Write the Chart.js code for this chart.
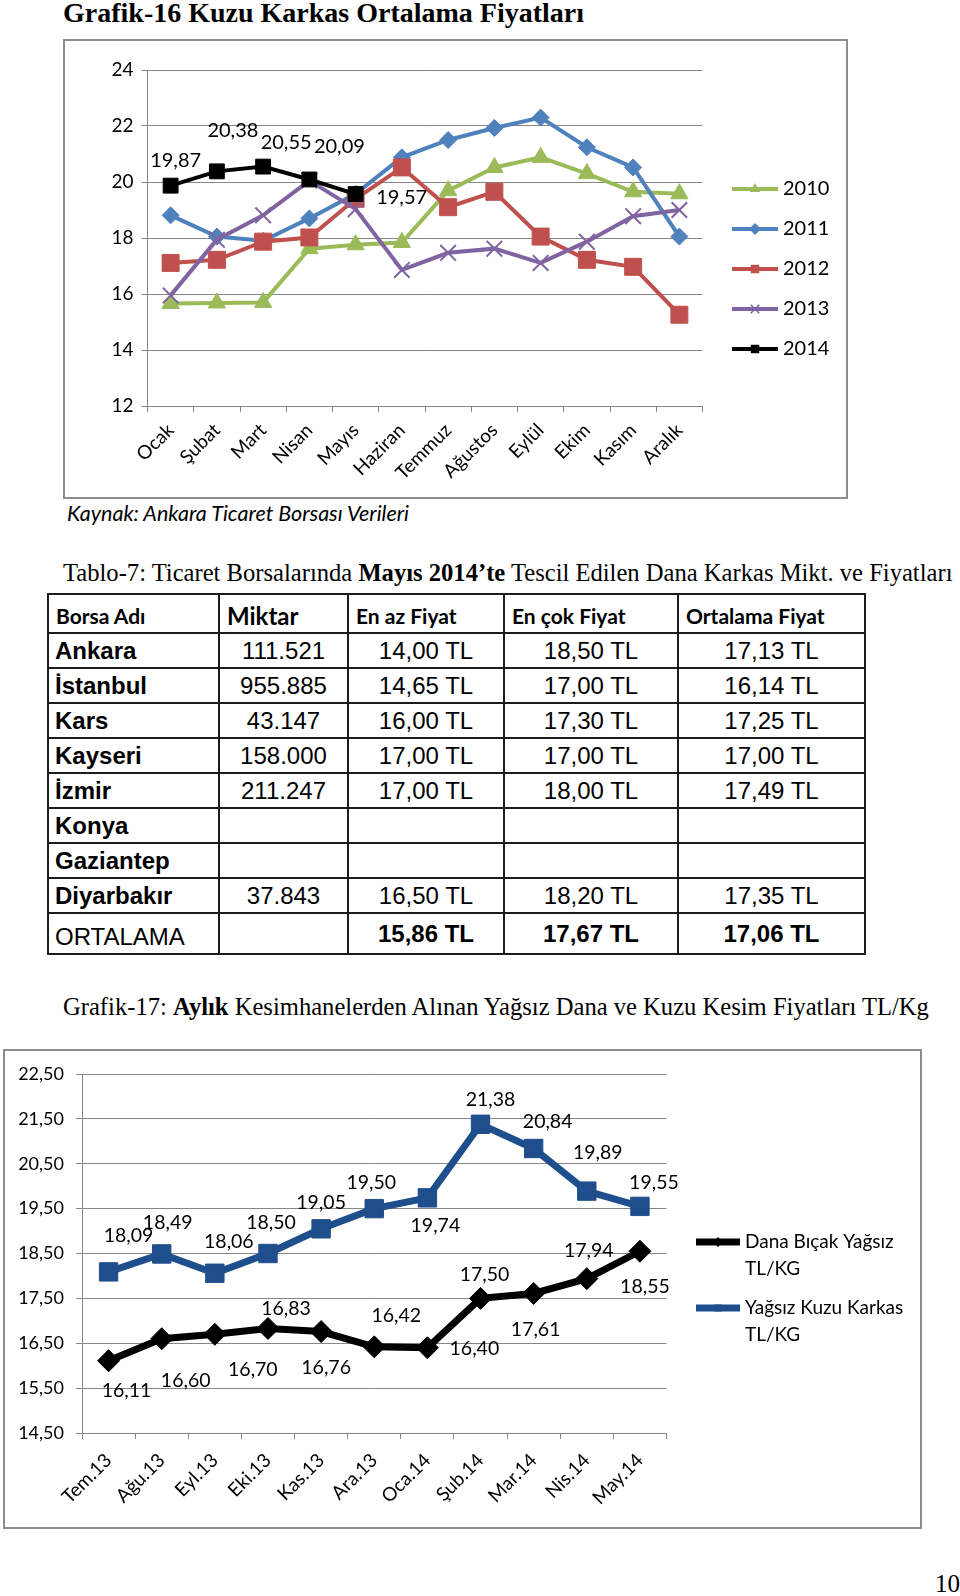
<!DOCTYPE html>
<html lang="tr">
<head>
<meta charset="utf-8">
<script src="https://cdn.jsdelivr.net/npm/chart.js@4.4.1/dist/chart.umd.min.js"></script>
<style>
 body { margin:0; background:#fff; width:960px; height:1596px; position:relative; overflow:hidden; }
 .serif { position:absolute; font-family:"Liberation Serif","Times New Roman",serif; white-space:nowrap; color:#000; }
 .box { position:absolute; border:2px solid #8c8c8c; box-sizing:border-box; }
 canvas { position:absolute; }
 #tablo { position:absolute; left:47px; top:593px; border-collapse:collapse; table-layout:fixed; }
 #tablo td { border:2px solid #1c1c1c; height:33px; padding:0; font-family:"Liberation Sans",Arial,sans-serif; font-size:24px; text-align:center; vertical-align:middle; }
 #tablo td.ad { text-align:left; padding-left:6px; font-weight:bold; }
 #tablo tr.bas td { font-family:Lato,sans-serif; font-weight:bold; font-size:21px; text-align:left; padding-left:7px; padding-top:4px; }
 #tablo tr.ort td.ad { font-weight:normal; padding-top:6px; }
 #tablo tr.ort td { font-weight:bold; }
</style>
</head>
<body>

<div class="serif" style="left:63px;top:-3px;font-size:28px;font-weight:bold;">Grafik-16 Kuzu Karkas Ortalama Fiyatları</div>
<div class="box" style="left:63px;top:39px;width:785px;height:460px;"></div>
<canvas id="grafik16" width="785" height="460" style="left:63px;top:39px;"></canvas>
<div style="position:absolute;left:67px;top:500px;font-family:Lato,sans-serif;font-style:italic;font-size:21.5px;">Kaynak: Ankara Ticaret Borsası Verileri</div>

<div class="serif" style="left:63px;top:559px;font-size:24.6px;">Tablo-7: Ticaret Borsalarında <b>Mayıs 2014’te</b> Tescil Edilen Dana Karkas Mikt. ve Fiyatları</div>
<table id="tablo"></table>

<div class="serif" style="left:63px;top:993px;font-size:24.6px;">Grafik-17: <b>Aylık</b> Kesimhanelerden Alınan Yağsız Dana ve Kuzu Kesim Fiyatları TL/Kg</div>
<div class="box" style="left:3px;top:1049px;width:919px;height:480px;"></div>
<canvas id="grafik17" width="919" height="480" style="left:3px;top:1049px;"></canvas>

<div class="serif" style="left:935px;top:1570px;font-size:25px;">10</div>

<script>
// Grafik-16 verileri
const aylar = ["Ocak", "Şubat", "Mart", "Nisan", "Mayıs", "Haziran", "Temmuz", "Ağustos", "Eylül", "Ekim", "Kasım", "Aralık"];
const y2010 = [15.66, 15.68, 15.70, 17.62, 17.76, 17.84, 19.69, 20.52, 20.88, 20.30, 19.65, 19.58];
const y2011 = [18.81, 18.05, 17.90, 18.70, 19.58, 20.88, 21.50, 21.93, 22.30, 21.24, 20.52, 18.05];
const y2012 = [17.11, 17.22, 17.87, 18.02, 19.40, 20.52, 19.10, 19.65, 18.05, 17.22, 16.97, 15.26];
const y2013 = [15.95, 17.94, 18.81, 20.05, 19.03, 16.86, 17.47, 17.62, 17.11, 17.87, 18.78, 19.00];
const y2014 = [19.87, 20.38, 20.55, 20.09, 19.57, null, null, null, null, null, null, null];
const yTick16 = { min: 12, max: 24, step: 2 };

// Grafik-17 verileri
const donemler = ["Tem.13", "Ağu.13", "Eyl.13", "Eki.13", "Kas.13", "Ara.13", "Oca.14", "Şub.14", "Mar.14", "Nis.14", "May.14"];
const danaBicak = [16.11, 16.60, 16.70, 16.83, 16.76, 16.42, 16.40, 17.50, 17.61, 17.94, 18.55];
const kuzuKarkas = [18.09, 18.49, 18.06, 18.50, 19.05, 19.50, 19.74, 21.38, 20.84, 19.89, 19.55];
const yTick17 = { min: 14.5, max: 22.5, step: 1 };

// Tablo-7 verileri
const borsaAdlari = ["Ankara", "İstanbul", "Kars", "Kayseri", "İzmir", "Konya", "Gaziantep", "Diyarbakır"];
const miktar = ["111.521", "955.885", "43.147", "158.000", "211.247", "", "", "37.843"];
const enAzFiyat = ["14,00 TL", "14,65 TL", "16,00 TL", "17,00 TL", "17,00 TL", "", "", "16,50 TL"];
const enCokFiyat = ["18,50 TL", "17,00 TL", "17,30 TL", "17,00 TL", "18,00 TL", "", "", "18,20 TL"];
const ortalamaFiyat = ["17,13 TL", "16,14 TL", "17,25 TL", "17,00 TL", "17,49 TL", "", "", "17,35 TL"];
const ortalamaSatiri = ["ORTALAMA", "", "15,86 TL", "17,67 TL", "17,06 TL"];
const basliklar = ["Borsa Adı", "Miktar", "En az Fiyat", "En çok Fiyat", "Ortalama Fiyat"];

// etiket kaydırmaları (px)
const etiket14 = { dx: [5, 16, 23, 30, 46], dy: [-25, -41, -24, -33, 4] };
const etiketKuzu = { dx: [20, 6, 14, 3, 0, -3, 8, 10, 14, 11, 14], dy: [-36, -31, -32, -31, -26, -26, 28, -25, -27, -38, -24] };
const etiketDana = { dx: [18, 24, 38, 18, 5, 22, 47, 4, 2, 2, 5], dy: [30, 42, 35, -20, 36, -31, 1, -24, 36, -28, 35] };

// tablo
const sutunGen = [171, 129, 156, 174, 187];
const tablo = document.getElementById("tablo");
const cg = document.createElement("colgroup");
sutunGen.forEach(w => { const c = document.createElement("col"); c.style.width = w + "px"; cg.appendChild(c); });
tablo.appendChild(cg);
function satir(hucreler, sinif) {
  const tr = document.createElement("tr");
  if (sinif) tr.className = sinif;
  hucreler.forEach((t, i) => {
    const td = document.createElement("td");
    if (i === 0) td.className = "ad";
    td.textContent = t;
    tr.appendChild(td);
  });
  tablo.appendChild(tr);
  return tr;
}
const bas = satir(basliklar, "bas");
bas.children[1].style.fontSize = "24px";
borsaAdlari.forEach((ad, i) => satir([ad, miktar[i], enAzFiyat[i], enCokFiyat[i], ortalamaFiyat[i]]));
satir(ortalamaSatiri, "ort");

const virgul = v => v.toFixed(2).replace(".", ",");
const FONT = "Lato, 'Open Sans', sans-serif";

function isaret(ctx, stil, x, y, r, renk) {
  ctx.save();
  ctx.fillStyle = renk; ctx.strokeStyle = renk;
  ctx.beginPath();
  if (stil === "triangle") {
    ctx.moveTo(x, y - r); ctx.lineTo(x + r * 0.866, y + r / 2); ctx.lineTo(x - r * 0.866, y + r / 2); ctx.closePath(); ctx.fill();
  } else if (stil === "rectRot") {
    ctx.moveTo(x, y - r); ctx.lineTo(x + r, y); ctx.lineTo(x, y + r); ctx.lineTo(x - r, y); ctx.closePath(); ctx.fill();
  } else if (stil === "rect") {
    const s = r * Math.SQRT1_2; ctx.rect(x - s, y - s, 2 * s, 2 * s); ctx.fill();
  } else if (stil === "crossRot") {
    const s = r * Math.SQRT1_2; ctx.lineWidth = 1.5;
    ctx.moveTo(x - s, y - s); ctx.lineTo(x + s, y + s); ctx.moveTo(x + s, y - s); ctx.lineTo(x - s, y + s); ctx.stroke();
  }
  ctx.restore();
}

// lejant ve veri etiketleri
const cizimEki = {
  id: "cizimEki",
  afterDatasetsDraw(chart, args, opts) {
    const ctx = chart.ctx;
    ctx.save();
    ctx.font = opts.etiketFont + "px " + FONT;
    ctx.fillStyle = "#000";
    ctx.textAlign = "center";
    ctx.textBaseline = "middle";
    (opts.etiketler || []).forEach(e => {
      const meta = chart.getDatasetMeta(e.ds);
      const veri = chart.data.datasets[e.ds].data;
      meta.data.forEach((p, i) => {
        if (veri[i] == null) return;
        ctx.fillText(virgul(veri[i]), p.x + e.kay.dx[i], p.y + e.kay.dy[i]);
      });
    });
    const L = opts.lejant;
    ctx.textAlign = "left";
    ctx.font = L.font + "px " + FONT;
    L.ogeler.forEach((o, k) => {
      const ds = chart.data.datasets[o.ds];
      const y = L.y[k];
      ctx.strokeStyle = ds.borderColor;
      ctx.lineWidth = ds.borderWidth;
      ctx.beginPath(); ctx.moveTo(L.x0, y); ctx.lineTo(L.x1, y); ctx.stroke();
      isaret(ctx, ds.pointStyle, (L.x0 + L.x1) / 2, y, L.r, ds.pointBackgroundColor);
      ctx.fillStyle = "#000";
      o.metin.forEach((m, j) => ctx.fillText(m, L.x1 + 5, y + j * 27));
    });
    ctx.restore();
  }
};

function seri(ad, veri, renk, stil, r, order) {
  return { label: ad, data: veri, borderColor: renk, backgroundColor: renk, pointBackgroundColor: renk,
    pointBorderColor: renk, borderWidth: 4, pointStyle: stil, pointRadius: r, pointHoverRadius: r,
    pointBorderWidth: stil === "crossRot" ? 2 : 1, tension: 0, order: order, spanGaps: false };
}

new Chart(document.getElementById("grafik16"), {
  type: "line",
  data: {
    labels: aylar,
    datasets: [
      seri("2010", y2010, "#9BBB59", "triangle", 10, 4),
      seri("2011", y2011, "#4F81BD", "rectRot", 8.5, 3),
      seri("2012", y2012, "#C0504D", "rect", 12, 2),
      seri("2013", y2013, "#8064A2", "crossRot", 11, 1),
      seri("2014", y2014, "#000000", "rect", 10.5, 0)
    ]
  },
  options: {
    responsive: false, animation: false,
    layout: { padding: { left: 0, right: 145.5, top: 31, bottom: 0 } },
    plugins: {
      legend: { display: false }, tooltip: { enabled: false },
      cizimEki: {
        etiketFont: 20,
        etiketler: [{ ds: 4, kay: etiket14 }],
        lejant: { x0: 669, x1: 715, r: 6, font: 20, y: [150, 190, 230, 270, 310],
          ogeler: [{ ds: 0, metin: ["2010"] }, { ds: 1, metin: ["2011"] }, { ds: 2, metin: ["2012"] }, { ds: 3, metin: ["2013"] }, { ds: 4, metin: ["2014"] }] }
      }
    },
    scales: {
      x: {
        offset: true,
        afterFit: s => { s.height = 93; },
        grid: { display: true, drawOnChartArea: false, drawTicks: true, tickLength: 6, color: "#868686", offset: true },
        border: { display: true, color: "#868686" },
        ticks: { autoSkip: false, minRotation: 45, maxRotation: 45, color: "#000", font: { family: FONT, size: 19 }, padding: 7 }
      },
      y: {
        min: yTick16.min, max: yTick16.max,
        afterFit: s => { s.width = 84.5; },
        grid: { color: "#868686", tickLength: 6 },
        border: { display: true, color: "#868686" },
        ticks: { stepSize: yTick16.step, color: "#000", font: { family: FONT, size: 19 }, padding: 8 }
      }
    }
  },
  plugins: [cizimEki]
});

new Chart(document.getElementById("grafik17"), {
  type: "line",
  data: {
    labels: donemler,
    datasets: [
      seri("Dana Bıçak Yağsız TL/KG", danaBicak, "#000000", "rectRot", 11, 1),
      seri("Yağsız Kuzu Karkas TL/KG", kuzuKarkas, "#1F4E8C", "rect", 13, 0)
    ].map(d => Object.assign(d, { borderWidth: 7 }))
  },
  options: {
    responsive: false, animation: false,
    layout: { padding: { left: 0, right: 255.5, top: 25, bottom: 0 } },
    plugins: {
      legend: { display: false }, tooltip: { enabled: false },
      cizimEki: {
        etiketFont: 19.5,
        etiketler: [{ ds: 1, kay: etiketKuzu }, { ds: 0, kay: etiketDana }],
        lejant: { x0: 693, x1: 737, r: 5, font: 19, y: [193, 259],
          ogeler: [{ ds: 0, metin: ["Dana Bıçak Yağsız", "TL/KG"] }, { ds: 1, metin: ["Yağsız Kuzu Karkas", "TL/KG"] }] }
      }
    },
    scales: {
      x: {
        offset: true,
        afterFit: s => { s.height = 96; },
        grid: { display: true, drawOnChartArea: false, drawTicks: true, tickLength: 6, color: "#868686", offset: true },
        border: { display: true, color: "#868686" },
        ticks: { autoSkip: false, minRotation: 45, maxRotation: 45, color: "#000", font: { family: FONT, size: 19 }, padding: 10 }
      },
      y: {
        min: yTick17.min, max: yTick17.max,
        afterFit: s => { s.width = 79; },
        grid: { color: "#868686", tickLength: 6 },
        border: { display: true, color: "#868686" },
        ticks: { stepSize: yTick17.step, color: "#000", font: { family: FONT, size: 18 }, padding: 12, callback: v => virgul(v) }
      }
    }
  },
  plugins: [cizimEki]
});
</script>
</body>
</html>
